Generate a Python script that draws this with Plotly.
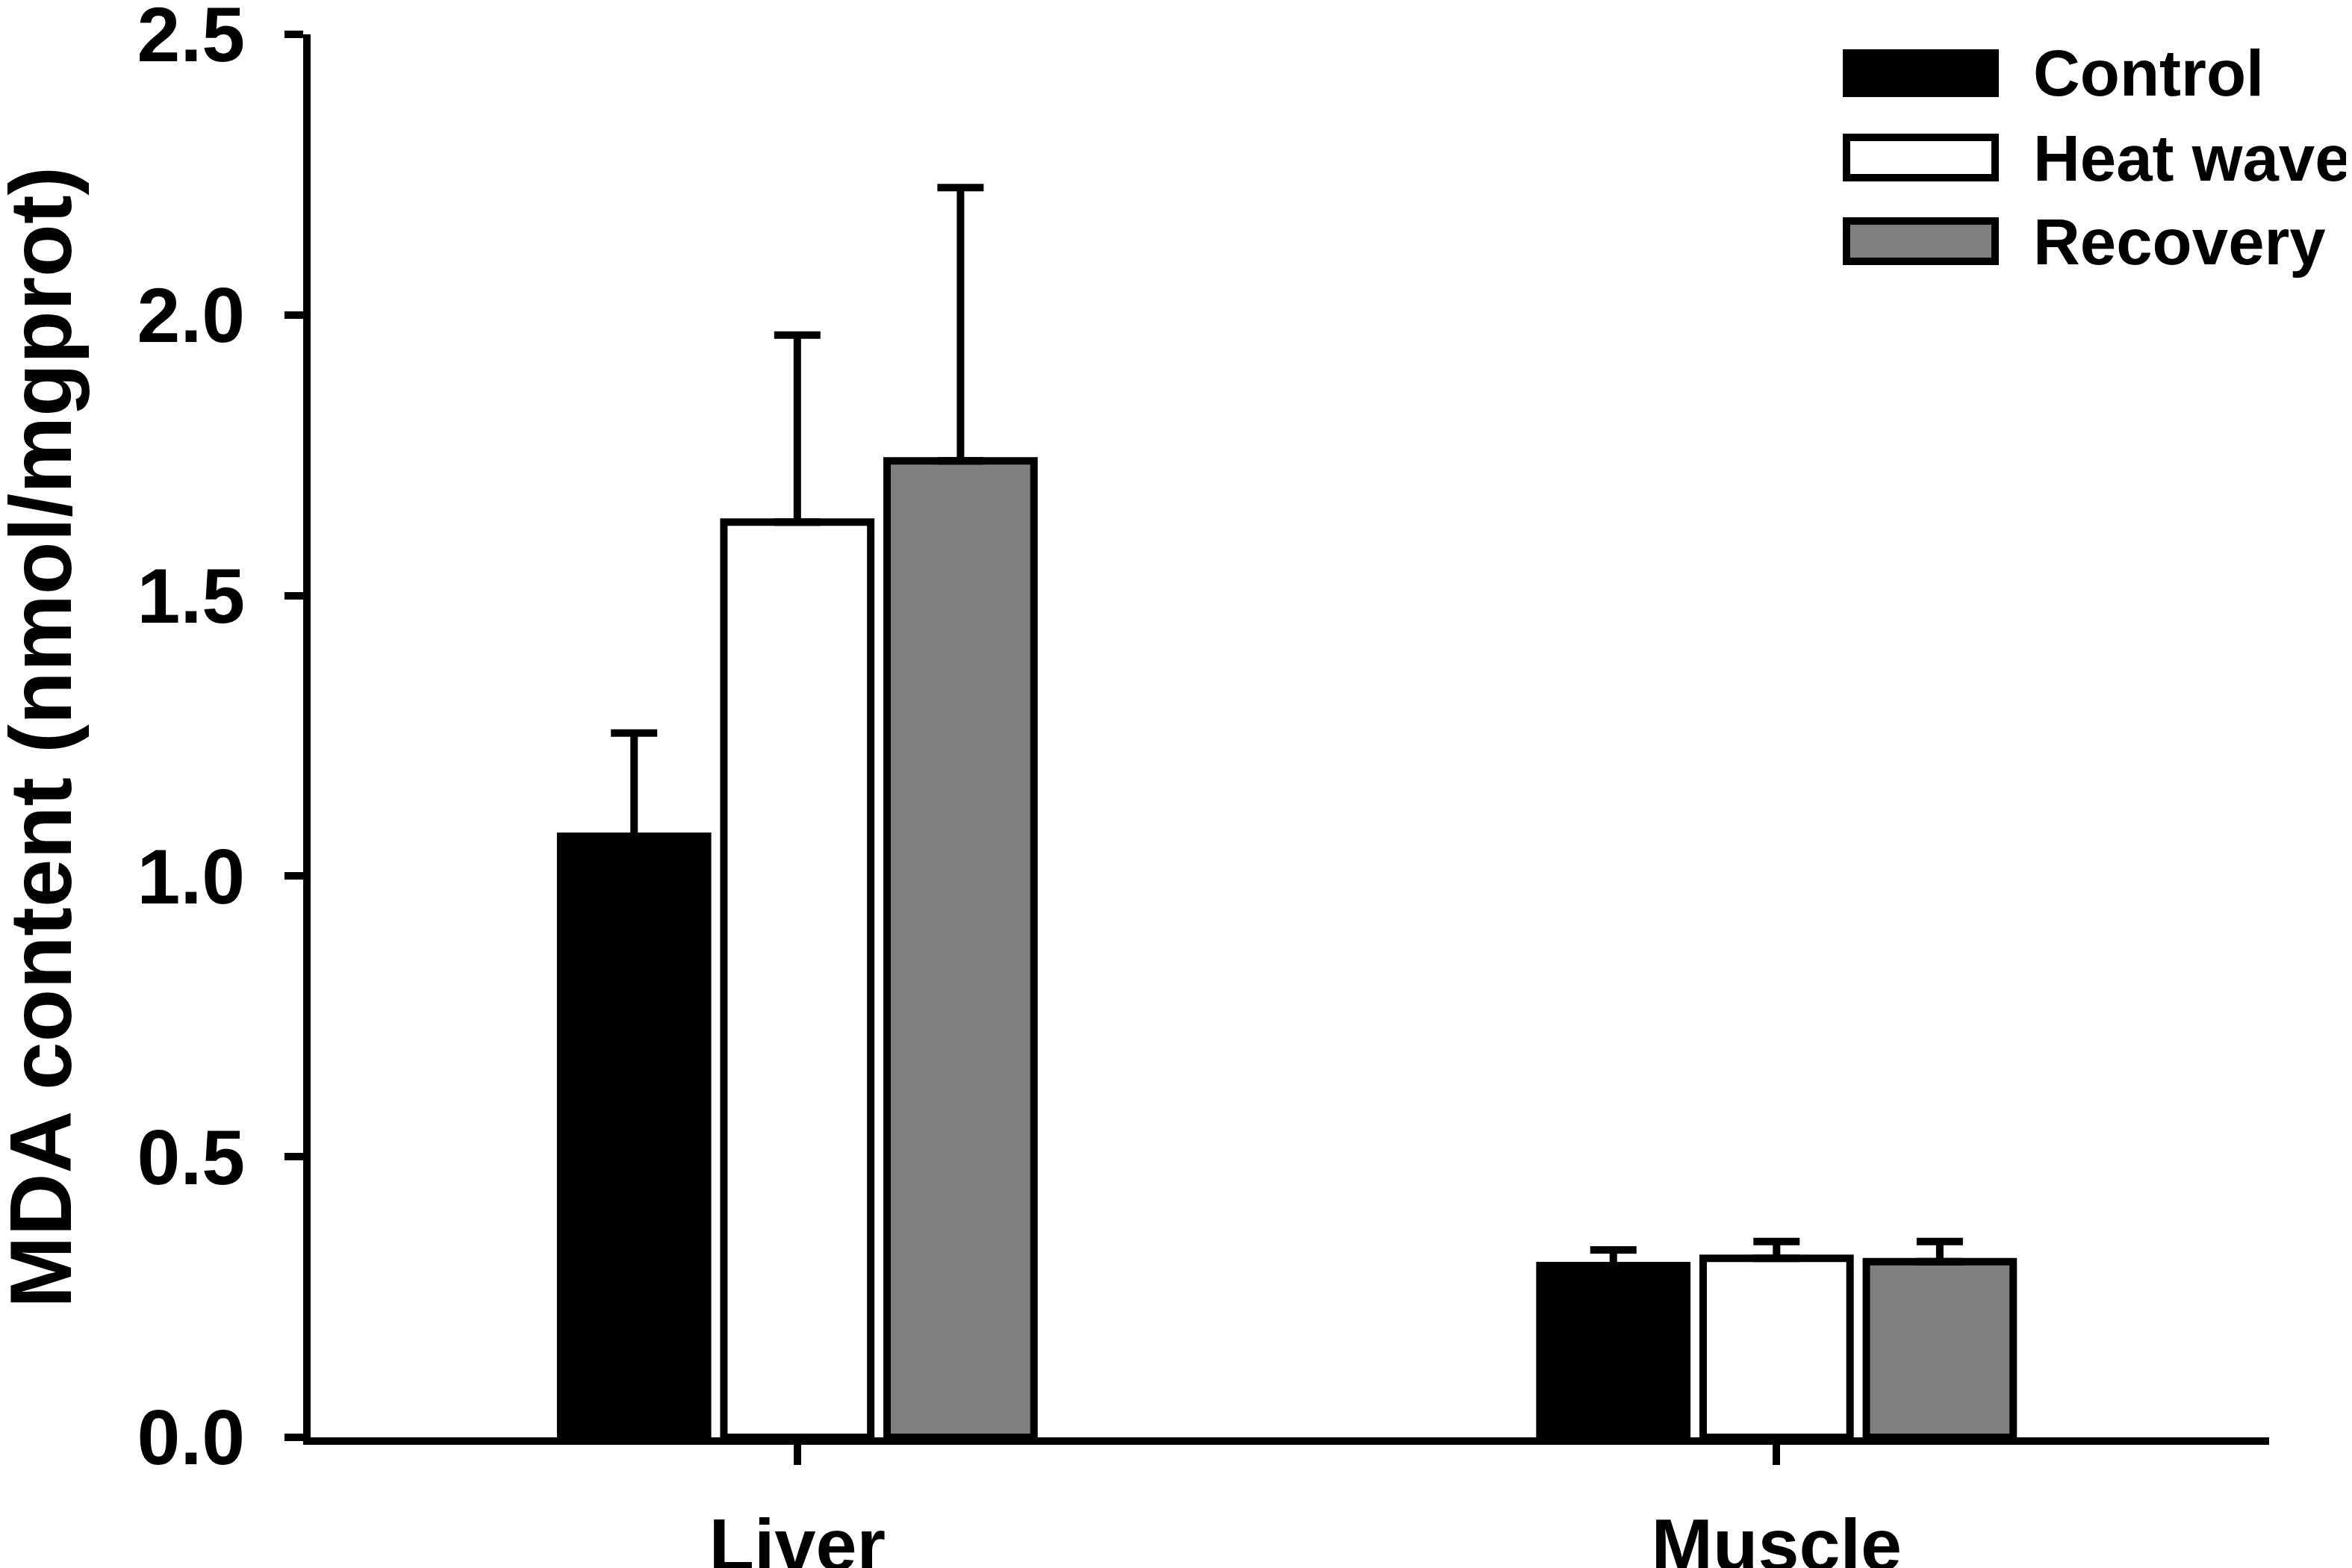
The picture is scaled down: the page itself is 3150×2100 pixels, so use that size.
import plotly.graph_objects as go

categories = ["Liver", "Muscle"]
series_names = ["Control", "Heat wave", "Recovery"]
control_vals = [1.071, 0.306]
heat_vals = [1.631, 0.319]
recovery_vals = [1.740, 0.313]
control_err = [0.184, 0.028]
heat_err = [0.333, 0.030]
recovery_err = [0.487, 0.036]
y_ticks = [0.0, 0.5, 1.0, 1.5, 2.0, 2.5]
y_tick_labels = ["0.0", "0.5", "1.0", "1.5", "2.0", "2.5"]
y_title = "MDA content (nmol/mgprot)"

fills = ["#000000", "#ffffff", "#808080"]
values = [control_vals, heat_vals, recovery_vals]
errors = [control_err, heat_err, recovery_err]

W, H = 3150, 2100
L, R, T, B = 408, 119, 38, 183
PW, PH = W - L - R, H - T - B
FONT = "Liberation Sans, Arial, sans-serif"
LW = 10


def px(xp):
    return (xp - L) / PW


def py(yp):
    return (H - B - yp) / PH


fig = go.Figure()
for name, vals, errs, col in zip(series_names, values, errors, fills):
    fig.add_trace(go.Bar(
        name=name, x=categories, y=vals,
        marker=dict(color=col, line=dict(color="#000000", width=LW)),
        error_y=dict(type="data", array=errs, arrayminus=[0] * len(errs),
                     symmetric=False, color="#000000", thickness=LW, width=31),
        showlegend=False,
    ))

fig.update_layout(
    width=W, height=H,
    margin=dict(l=L, r=R, t=T, b=B, autoexpand=False),
    paper_bgcolor="#ffffff", plot_bgcolor="#ffffff",
    barmode="group", bargap=0.5, bargroupgap=0.10,
    font=dict(family=FONT, color="#000000"),
)
fig.update_xaxes(
    type="category", range=[-0.497, 1.503],
    showline=True, linewidth=LW, linecolor="#000000",
    ticks="outside", ticklen=27, tickwidth=LW, tickcolor="#000000",
    tickfont=dict(family=FONT, size=99, weight="bold"),
    showgrid=False, zeroline=False, ticklabelstandoff=22,
    ticklabeloverflow="allow",
)
fig.update_yaxes(
    range=[0, 2.5], tickvals=y_ticks, ticktext=y_tick_labels,
    showline=True, linewidth=LW, linecolor="#000000",
    ticks="outside", ticklen=25, tickwidth=LW, tickcolor="#000000",
    tickfont=dict(family=FONT, size=104, weight="bold"),
    showgrid=False, zeroline=False, ticklabelstandoff=32,
    ticklabeloverflow="allow",
)

# y title
fig.add_annotation(
    text=y_title, xref="paper", yref="paper", x=px(47), y=py(980),
    xanchor="center", yanchor="middle", textangle=-90, showarrow=False,
    font=dict(family=FONT, size=116, weight="bold"),
)

# custom legend
leg_y = [90, 203, 315]
for name, col, yc in zip(series_names, fills, leg_y):
    fig.add_shape(
        type="rect", xref="paper", yref="paper",
        x0=px(2465), x1=px(2664), y0=py(yc - 27), y1=py(yc + 27),
        fillcolor=col, line=dict(color="#000000", width=LW),
    )
    fig.add_annotation(
        text=name, xref="paper", yref="paper", x=px(2713), y=py(yc),
        xanchor="left", yanchor="middle", showarrow=False,
        font=dict(family=FONT, size=87, weight="bold"),
    )

fig.write_html("out.html")
